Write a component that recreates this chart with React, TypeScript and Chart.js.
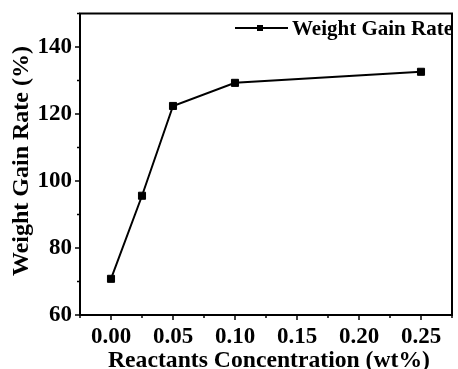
import { useEffect, useRef } from 'react';
import { Chart, registerables } from 'chart.js';

Chart.register(...registerables);

const concentrations = [0, 0.025, 0.05, 0.1, 0.25];
const weightGainRate = [70.8, 95.6, 122.4, 129.3, 132.6];
const seriesLabel = 'Weight Gain Rate';
const xTitle = 'Reactants Concentration (wt%)';
const yTitle = 'Weight Gain Rate (%)';
const xTickLabels = ['0.00', '0.05', '0.10', '0.15', '0.20', '0.25'];
const yTickLabels = ['60', '80', '100', '120', '140'];

const FONT = '"Liberation Serif", "Times New Roman", serif';

const decorPlugin = {
  id: 'decor',
  beforeDatasetsDraw(chart: any) {
    const { ctx, chartArea } = chart;
    const { left, right, top, bottom } = chartArea;
    ctx.save();
    ctx.strokeStyle = '#000';
    ctx.lineWidth = 2;
    ctx.strokeRect(left, top, right - left, bottom - top);
    ctx.lineWidth = 1.5;
    const xs = chart.scales.x;
    xs.ticks.forEach((t: any) => {
      const px = xs.getPixelForValue(t.value);
      const len = t.label ? 5 : 3;
      ctx.beginPath();
      ctx.moveTo(px, bottom);
      ctx.lineTo(px, bottom + len);
      ctx.stroke();
    });
    const ys = chart.scales.y;
    ys.ticks.forEach((t: any) => {
      const py = ys.getPixelForValue(t.value);
      const len = t.label ? 5 : 3;
      ctx.beginPath();
      ctx.moveTo(left, py);
      ctx.lineTo(left - len, py);
      ctx.stroke();
    });
    ctx.restore();
  },
  afterDraw(chart: any) {
    const { ctx } = chart;
    ctx.save();
    ctx.fillStyle = '#000';
    ctx.strokeStyle = '#000';
    // X title
    ctx.font = `bold 23px ${FONT}`;
    ctx.textAlign = 'center';
    ctx.textBaseline = 'alphabetic';
    {
      const w = ctx.measureText(xTitle).width;
      const s = 322 / w;
      ctx.save();
      ctx.translate(269, 366.5);
      ctx.scale(s, 1);
      ctx.fillText(xTitle, 0, 0);
      ctx.restore();
    }
    // Y title
    ctx.font = `bold 24px ${FONT}`;
    ctx.save();
    ctx.translate(27.5, 161);
    ctx.rotate(-Math.PI / 2);
    ctx.fillText(yTitle, 0, 0);
    ctx.restore();
    // Legend
    const label = chart.data.datasets[0].label;
    ctx.lineWidth = 2;
    ctx.beginPath();
    ctx.moveTo(235, 28);
    ctx.lineTo(288, 28);
    ctx.stroke();
    ctx.fillRect(257, 25, 6, 6);
    ctx.font = `bold 21px ${FONT}`;
    ctx.textAlign = 'left';
    ctx.fillText(label, 292, 35);
    ctx.restore();
  },
};

export default function App() {
  const ref = useRef<HTMLCanvasElement | null>(null);
  useEffect(() => {
    if (!ref.current) return;
    const chart = new Chart(ref.current, {
      type: 'line',
      data: {
        datasets: [
          {
            label: seriesLabel,
            data: concentrations.map((x, i) => ({ x, y: weightGainRate[i] })),
            borderColor: '#000',
            backgroundColor: '#000',
            borderWidth: 2,
            pointStyle: 'rect',
            pointRadius: 5,
            pointBorderWidth: 1,
            pointBackgroundColor: '#000',
            pointBorderColor: '#000',
            tension: 0,
          },
        ],
      },
      options: {
        animation: false,
        responsive: false,
        devicePixelRatio: 1,
        layout: { padding: { top: 13.5, right: 1.5, left: 0, bottom: 0 } },
        plugins: { legend: { display: false }, tooltip: { enabled: false } },
        scales: {
          x: {
            type: 'linear',
            min: -0.025,
            max: 0.275,
            grid: { display: false, drawTicks: false },
            border: { display: false },
            ticks: {
              stepSize: 0.025,
              autoSkip: false,
              maxRotation: 0,
              padding: 8,
              color: '#000',
              font: { family: FONT, size: 23, weight: 'bold' },
              callback: (v: any) => {
                const k = Math.round(Number(v) * 1000);
                const found = xTickLabels.find((l) => Math.round(parseFloat(l) * 1000) === k);
                return found ?? '';
              },
            },
            afterFit: (s: any) => {
              s.height = 54;
              s.paddingLeft = 0;
              s.paddingRight = 0;
              s.paddingTop = 0;
              s.paddingBottom = 0;
            },
          },
          y: {
            min: 60,
            max: 150,
            grid: { display: false, drawTicks: false },
            border: { display: false },
            ticks: {
              stepSize: 10,
              autoSkip: false,
              padding: 8,
              color: '#000',
              font: { family: FONT, size: 23, weight: 'bold' },
              callback: (v: any) => {
                const found = yTickLabels.find((l) => Number(l) === Math.round(Number(v)));
                return found ?? '';
              },
            },
            afterFit: (s: any) => {
              s.width = 80;
              s.paddingLeft = 0;
              s.paddingRight = 0;
              s.paddingTop = 0;
              s.paddingBottom = 0;
            },
          },
        },
      },
      plugins: [decorPlugin],
    });
    return () => chart.destroy();
  }, []);
  return (
    <div style={{ position: 'fixed', left: 0, top: 0, width: 458, height: 369, background: '#fff' }}>
      <canvas ref={ref} width={458} height={369} style={{ width: 458, height: 369, display: 'block' }} />
    </div>
  );
}
